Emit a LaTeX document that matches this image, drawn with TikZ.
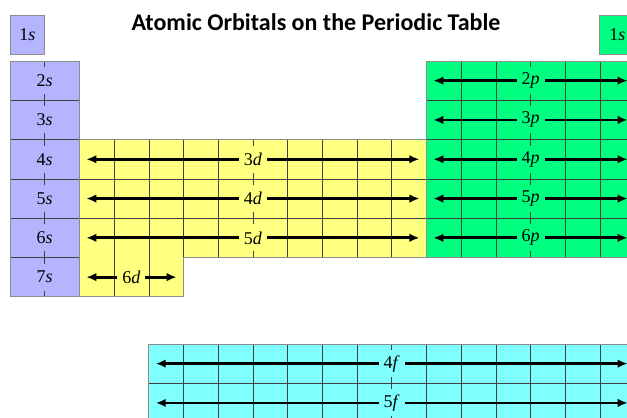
\documentclass[tikz,border=0pt]{standalone}
\usepackage{fontspec}
\setmainfont{Liberation Serif}
\newfontfamily\titlefont{Carlito}
\usetikzlibrary{arrows.meta}
\definecolor{sblock}{HTML}{B4B4FF}
\definecolor{dblock}{HTML}{FFFF80}
\definecolor{pblock}{HTML}{00FF80}
\definecolor{fblock}{HTML}{80FFFF}

\begin{document}
\begin{tikzpicture}[x=34.7pt, y=-39.3pt,
	block/.style={draw=black!45, line width=0.9pt},
	grid line/.style={draw=black!75, line width=0.6pt},
	orb arrow/.style={line width=2.8pt, {Latex[length=10pt,width=8.5pt]}-{Latex[length=10pt,width=8.5pt]}},
	orb/.style={fill=#1, font=\fontsize{18}{20}\selectfont, inner xsep=5pt, inner ysep=0pt, minimum height=27pt}]
	\useasboundingbox (-0.2882,-1.5522) rectangle (17.781,9.084);
	% Block fills:
	\fill[sblock] (0,-1.17) rectangle (1,-0.17);
	\fill[sblock] (0,0) rectangle (2,6);
	\fill[dblock] (2,2) rectangle (12,5);
	\fill[dblock] (2,5) rectangle (5,6);
	\fill[pblock] (12,0) rectangle (18,5);
	\fill[pblock] (17,-1.17) rectangle (18,-0.17);
	\fill[fblock] (4,7.2) rectangle (18,9.2);
	% Grid lines:
	\draw[grid line] (1,0) -- (1,6);
	\foreach \r in {1,...,5} \draw[grid line] (0,\r) -- (2,\r);
	\foreach \c in {3,...,11} \draw[grid line] (\c,2) -- (\c,5);
	\foreach \r in {3,4} \draw[grid line] (2,\r) -- (12,\r);
	\foreach \c in {3,4} \draw[grid line] (\c,5) -- (\c,6);
	\foreach \c in {13,...,17} \draw[grid line] (\c,0) -- (\c,5);
	\foreach \r in {1,...,4} \draw[grid line] (12,\r) -- (18,\r);
	\foreach \c in {5,...,17} \draw[grid line] (\c,7.2) -- (\c,9.2);
	\draw[grid line] (4,8.2) -- (18,8.2);
	% s labels:
	\node[orb=sblock] (s1) at (0.5,-0.67) {1\textit{s}};
	\node[orb=pblock] (s1he) at (17.5,-0.67) {1\textit{s}};
	\foreach \n in {2,...,7}
		\node[orb=sblock] (s\n) at (1,{\n-1.5}) {\n\textit{s}};
	% d rows:
	\foreach \n in {3,4,5}{
		\coordinate (dl\n) at (2.2,{\n-0.5});
		\coordinate (dr\n) at (11.8,{\n-0.5});
		\draw[orb arrow] (dl\n) -- (dr\n);
		\node[orb=dblock] (d\n) at (7,{\n-0.5}) {\n\textit{d}};
	}
	\coordinate (dl6) at (2.2,5.5);
	\coordinate (dr6) at (4.8,5.5);
	\draw[orb arrow] (dl6) -- (dr6);
	\node[orb=dblock] (d6) at (3.5,5.5) {6\textit{d}};
	% p rows:
	\foreach \n in {2,...,6}{
		\coordinate (pl\n) at (12.2,{\n-1.5});
		\coordinate (pr\n) at (17.8,{\n-1.5});
		\draw[orb arrow] (pl\n) -- (pr\n);
		\node[orb=pblock] (p\n) at (15,{\n-1.5}) {\n\textit{p}};
	}
	% f rows:
	\foreach \n in {4,5}{
		\coordinate (fl\n) at (4.2,{\n+3.7});
		\coordinate (fr\n) at (17.8,{\n+3.7});
		\draw[orb arrow] (fl\n) -- (fr\n);
		\node[orb=fblock] (f\n) at (11,{\n+3.7}) {\n\textit{f}};
	}
	% Block outlines:
	\draw[block] (0,-1.17) rectangle (1,-0.17);
	\draw[block] (0,0) rectangle (2,6);
	\draw[block] (2,2) -- (12,2) -- (12,5) -- (5,5) -- (5,6) -- (2,6) -- cycle;
	\draw[block] (12,0) rectangle (18,5);
	\draw[block] (17,-1.17) rectangle (18,-0.17);
	\draw[block] (4,7.2) rectangle (18,9.2);
	% Title:
	\node[font={\titlefont\bfseries\fontsize{24}{28}\selectfont}] (title) at (8.82,-0.99) {Atomic Orbitals on the Periodic Table};
\end{tikzpicture}
\end{document}
